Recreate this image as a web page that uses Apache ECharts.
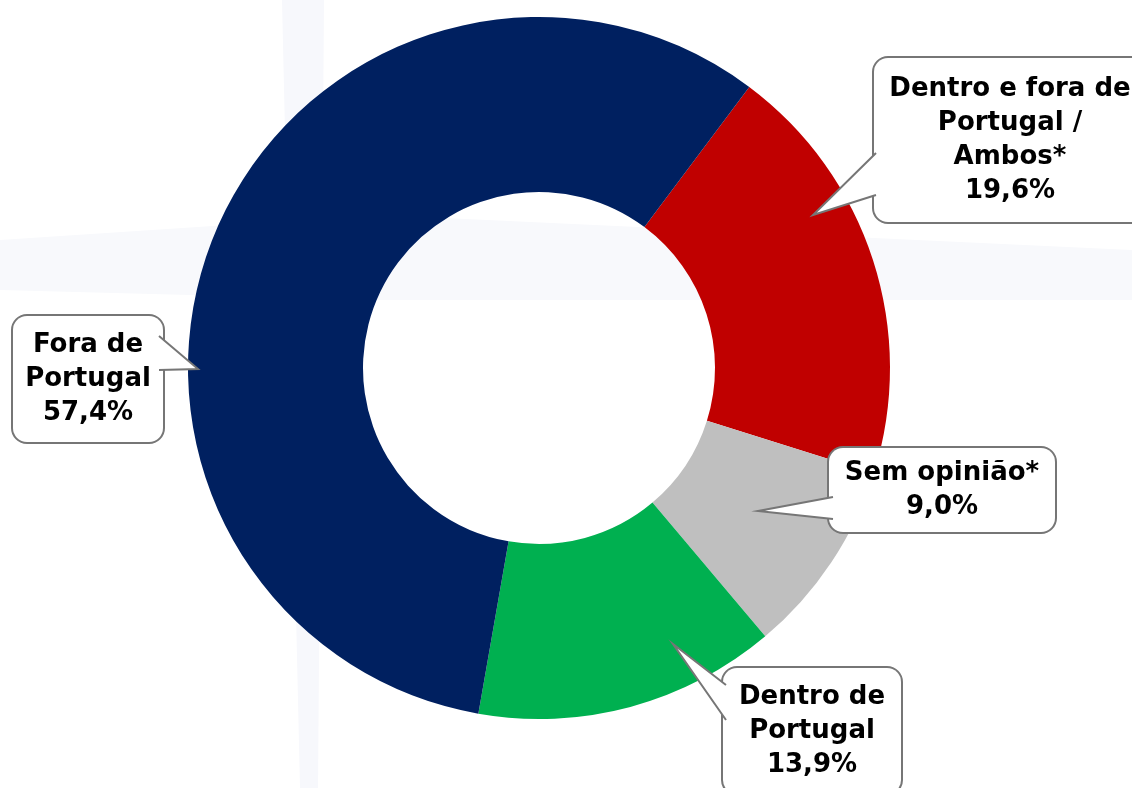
<!DOCTYPE html>
<html>
<head>
<meta charset="utf-8">
<script src="https://cdn.jsdelivr.net/npm/echarts@6/dist/echarts.min.js"></script>
<style>
  html, body { margin: 0; padding: 0; background: #fff; }
  #main { width: 1132px; height: 788px; }
</style>
</head>
<body>
<div id="main"></div>
<script>
// dados (sentido horário a partir da fatia vermelha)
var categories = ['Dentro e fora de Portugal / Ambos*', 'Sem opinião*', 'Dentro de Portugal', 'Fora de Portugal'];
var labelNames = ['Dentro e fora de\nPortugal /\nAmbos*', 'Sem opinião*', 'Dentro de\nPortugal', 'Fora de\nPortugal'];
var values = [19.6, 9.0, 13.9, 57.4];
var colors = ['#C00000', '#BFBFBF', '#00B050', '#002060'];

// centro, largura do texto e padding das caixas
var labelPos = [[1010, 140], [942, 490], [812, 731], [88, 379]];
var labelWidth = [244, 198, 150, 126];
var labelPad = [[14, 14], [8, 14], [12, 14], [12, 12]];

// bicos dos balões: [ponta, base1, base2]
var pointers = [
  [[813, 215], [876, 153], [876, 195]],
  [[758, 511], [833, 497], [833, 519]],
  [[673, 644], [726, 685], [726, 720]],
  [[198, 369], [159, 336], [159, 370]]
];

var chart = echarts.init(document.getElementById('main'));

var seriesData = categories.map(function (c, i) {
  return {
    name: c,
    value: values[i],
    itemStyle: { color: colors[i] },
    label: { padding: labelPad[i], width: labelWidth[i] }
  };
});

var graphics = [
  { type: 'polygon', z: -10, shape: { points: [[282, 0], [324, 0], [318, 788], [300, 788]] }, style: { fill: '#f7f8fc' } },
  { type: 'polygon', z: -10, shape: { points: [[0, 240], [380, 215], [1132, 250], [1132, 300], [380, 300], [0, 290]] }, style: { fill: '#f8f9fc' } }
];
pointers.forEach(function (p) {
  graphics.push({
    type: 'polygon', z: 100,
    shape: { points: [p[1], p[0], p[2]] },
    style: { fill: '#fff', stroke: null }
  });
  graphics.push({
    type: 'polyline', z: 101,
    shape: { points: [p[1], p[0], p[2]] },
    style: { stroke: '#767676', lineWidth: 2, fill: null, lineJoin: 'miter' }
  });
});

var option = {
  backgroundColor: '#fff',
  animation: false,
  graphic: graphics,
  series: [{
    type: 'pie',
    center: [539, 368],
    radius: [176, 351],
    startAngle: 53.2,
    clockwise: true,
    data: seriesData,
    label: {
      show: true,
      position: 'outside',
      overflow: 'none',
      formatter: function (p) {
        return labelNames[p.dataIndex] + '\n' + p.value.toFixed(1).replace('.', ',') + '%';
      },
      fontFamily: 'DejaVu Sans',
      fontWeight: 'bold',
      fontSize: 26,
      lineHeight: 34,
      color: '#000',
      align: 'center',
      backgroundColor: '#fff',
      borderColor: '#767676',
      borderWidth: 2,
      borderRadius: 14
    },
    labelLine: { show: false },
    labelLayout: function (params) {
      var p = labelPos[params.dataIndex];
      return { x: p[0], y: p[1], align: 'center', verticalAlign: 'middle' };
    }
  }]
};

chart.setOption(option);
window.onresize = function () {
  chart.resize();
};
</script>
</body>
</html>
